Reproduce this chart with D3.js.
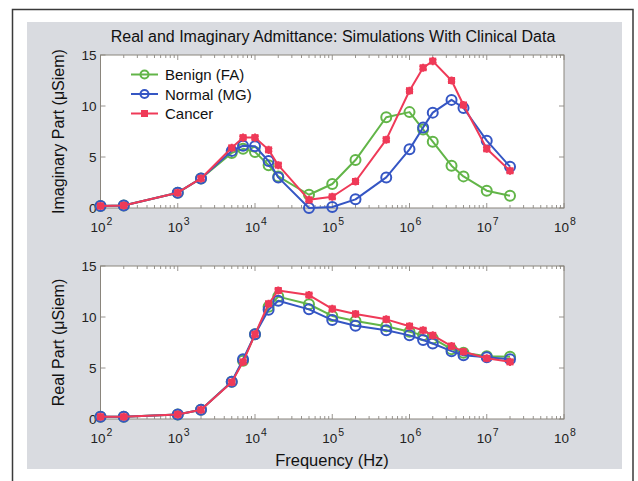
<!DOCTYPE html>
<html>
<head>
<meta charset="utf-8">
<script src="https://cdn.jsdelivr.net/npm/d3@7"></script>
<style>
  body { margin: 0; background: #fff; }
  svg { display: block; font-family: "Liberation Sans", Arial, Helvetica, sans-serif; }
</style>
</head>
<body>
<div id="chart"></div>
<script>
// frequencies (Hz)
var freq = [100, 200, 1000, 2000, 5000, 7000, 10000, 15000, 20000, 50000,
            1e5, 2e5, 5e5, 1e6, 1.5e6, 2e6, 3.5e6, 5e6, 1e7, 2e7];

// imaginary part (uSiem)
var imagBenign = [0.2, 0.25, 1.5, 2.9, 5.4, 5.8, 5.5, 4.2, 3.1, 1.3,
                  2.35, 4.7, 8.9, 9.4, 7.7, 6.5, 4.15, 3.1, 1.7, 1.2];
var imagNormal = [0.2, 0.25, 1.5, 2.9, 5.6, 6.1, 6.05, 4.6, 3.0, 0.0,
                  0.1, 0.85, 3.0, 5.75, 7.9, 9.35, 10.6, 9.8, 6.6, 4.05];
var imagCancer = [0.2, 0.25, 1.5, 2.9, 5.9, 6.9, 6.9, 5.7, 4.2, 0.8,
                  1.1, 2.6, 6.7, 11.5, 13.75, 14.4, 12.5, 10.1, 5.8, 3.65];

// real part (uSiem)
var realBenign = [0.22, 0.22, 0.45, 0.9, 3.65, 5.7, 8.3, 11.0, 12.0, 11.25,
                  10.1, 9.6, 9.1, 8.55, 8.2, 7.9, 6.85, 6.5, 6.15, 6.1];
var realNormal = [0.22, 0.22, 0.45, 0.9, 3.65, 5.85, 8.3, 10.7, 11.6, 10.75,
                  9.7, 9.15, 8.7, 8.2, 7.75, 7.4, 6.65, 6.25, 6.05, 5.85];
var realCancer = [0.22, 0.22, 0.45, 0.9, 3.6, 5.6, 8.3, 11.3, 12.6, 12.15,
                  10.8, 10.3, 9.77, 9.1, 8.7, 8.2, 7.15, 6.6, 5.95, 5.6];

var seriesNames = ["Benign (FA)", "Normal (MG)", "Cancer"];
var yTicks = [0, 5, 10, 15];
var xDecades = [2, 3, 4, 5, 6, 7, 8];

var colors = { "Benign (FA)": "#62b548", "Normal (MG)": "#3556c4", "Cancer": "#ef3a58" };
var markerType = { "Benign (FA)": "circle", "Normal (MG)": "circle", "Cancer": "star" };

var W = 638, H = 481;
var svg = d3.select("#chart").append("svg").attr("width", W).attr("height", H);

// outer frame + gray panel
svg.append("rect").attr("x", 27).attr("y", 22).attr("width", 595).attr("height", 447).attr("fill", "#d9dbe0");
svg.append("path").attr("d", "M12.5,481 V9.5 H633 V481")
  .attr("fill", "none").attr("stroke", "#3a3a3a").attr("stroke-width", 1.5);

var x = d3.scaleLog().domain([1e2, 1e8]).range([100.5, 564]);

svg.append("text").attr("x", 333).attr("y", 42).attr("text-anchor", "middle")
  .style("font-size", "16px").attr("fill", "#111")
  .text("Real and Imaginary Admittance: Simulations With Clinical Data");

function drawPanel(top, bottom, data, ylabel, legend) {
  var y = d3.scaleLinear().domain([0, 15]).range([bottom, top]);
  var g = svg.append("g");
  var x0 = x.range()[0], x1 = x.range()[1];

  g.append("rect").attr("x", x0).attr("y", top).attr("width", x1 - x0).attr("height", bottom - top)
    .attr("fill", "#fff");

  // x ticks (major + minor), bottom and top, inside
  var minor = [];
  for (var e = 2; e < 8; e++) for (var m = 2; m <= 9; m++) minor.push(m * Math.pow(10, e));
  var tickColor = "#7d7a74";
  minor.forEach(function(v) {
    g.append("line").attr("x1", x(v)).attr("x2", x(v)).attr("y1", bottom).attr("y2", bottom - 3)
      .attr("stroke", tickColor).attr("stroke-width", 0.8);
    g.append("line").attr("x1", x(v)).attr("x2", x(v)).attr("y1", top).attr("y2", top + 3)
      .attr("stroke", tickColor).attr("stroke-width", 0.8);
  });
  xDecades.forEach(function(d) {
    var v = Math.pow(10, d);
    g.append("line").attr("x1", x(v)).attr("x2", x(v)).attr("y1", bottom).attr("y2", bottom - 5)
      .attr("stroke", tickColor).attr("stroke-width", 0.8);
    g.append("line").attr("x1", x(v)).attr("x2", x(v)).attr("y1", top).attr("y2", top + 5)
      .attr("stroke", tickColor).attr("stroke-width", 0.8);
    var t = g.append("text").attr("x", x(v) + 1).attr("y", bottom + 24).attr("text-anchor", "middle")
      .style("font-size", "13.5px").attr("fill", "#222");
    t.append("tspan").text("10");
    t.append("tspan").attr("dx", 1).attr("dy", -7).style("font-size", "10.5px").text(d);
  });
  yTicks.forEach(function(v) {
    g.append("line").attr("x1", x0).attr("x2", x0 + 5).attr("y1", y(v)).attr("y2", y(v))
      .attr("stroke", tickColor).attr("stroke-width", 0.8);
    g.append("line").attr("x1", x1).attr("x2", x1 - 5).attr("y1", y(v)).attr("y2", y(v))
      .attr("stroke", tickColor).attr("stroke-width", 0.8);
    g.append("text").attr("x", x0 - 4).attr("y", y(v) + 5).attr("text-anchor", "end")
      .style("font-size", "13.5px").attr("fill", "#222").text(v);
  });
  g.append("rect").attr("x", x0).attr("y", top).attr("width", x1 - x0).attr("height", bottom - top)
    .attr("fill", "none").attr("stroke", "#8a857c").attr("stroke-width", 1);

  // y label
  g.append("text").attr("transform", "translate(64," + ((top + bottom) / 2) + ") rotate(-90)")
    .attr("text-anchor", "middle").style("font-size", "16px").attr("fill", "#111")
    .text(ylabel);

  var line = d3.line().x(function(d) { return x(d[0]); }).y(function(d) { return y(d[1]); });

  seriesNames.forEach(function(name, i) {
    var pts = freq.map(function(f, j) { return [f, data[i][j]]; });
    g.append("path").datum(pts).attr("d", line).attr("fill", "none")
      .attr("stroke", colors[name]).attr("stroke-width", 2).attr("stroke-linejoin", "round");
    drawMarkers(g, pts.map(function(p) { return [x(p[0]), y(p[1])]; }), name);
  });

  if (legend) {
    seriesNames.forEach(function(name, i) {
      var ly = 74.5 + i * 19.5;
      g.append("line").attr("x1", 131).attr("x2", 158).attr("y1", ly).attr("y2", ly)
        .attr("stroke", colors[name]).attr("stroke-width", 2);
      drawMarkers(g, [[144.5, ly]], name, true);
      g.append("text").attr("x", 165).attr("y", ly + 5.5).style("font-size", "15px")
        .attr("fill", "#111").text(name);
    });
  }
}

function drawMarkers(g, pts, name, small) {
  var c = colors[name];
  if (markerType[name] === "circle") {
    g.selectAll(null).data(pts).enter().append("circle")
      .attr("cx", function(d) { return d[0]; }).attr("cy", function(d) { return d[1]; })
      .attr("r", small ? 4 : 5).attr("fill", "none").attr("stroke", c).attr("stroke-width", 2);
  } else {
    var sym = d3.symbol().type(d3.symbolAsterisk).size(small ? 30 : 45);
    g.selectAll(null).data(pts).enter().append("rect")
      .attr("x", function(d) { return d[0] - 3.5; }).attr("y", function(d) { return d[1] - 3.5; })
      .attr("width", 7).attr("height", 7).attr("fill", c);
    g.selectAll(null).data(pts).enter().append("path")
      .attr("transform", function(d) { return "translate(" + d[0] + "," + d[1] + ")"; })
      .attr("d", sym).attr("fill", "none").attr("stroke", c).attr("stroke-width", 2);
  }
}

drawPanel(55, 208, [imagBenign, imagNormal, imagCancer], "Imaginary Part (\u03bcSiem)", true);
drawPanel(266, 419, [realBenign, realNormal, realCancer], "Real Part (\u03bcSiem)", false);

svg.append("text").attr("x", 332).attr("y", 466).attr("text-anchor", "middle")
  .style("font-size", "16.5px").attr("fill", "#111").text("Frequency (Hz)");
</script>
</body>
</html>
